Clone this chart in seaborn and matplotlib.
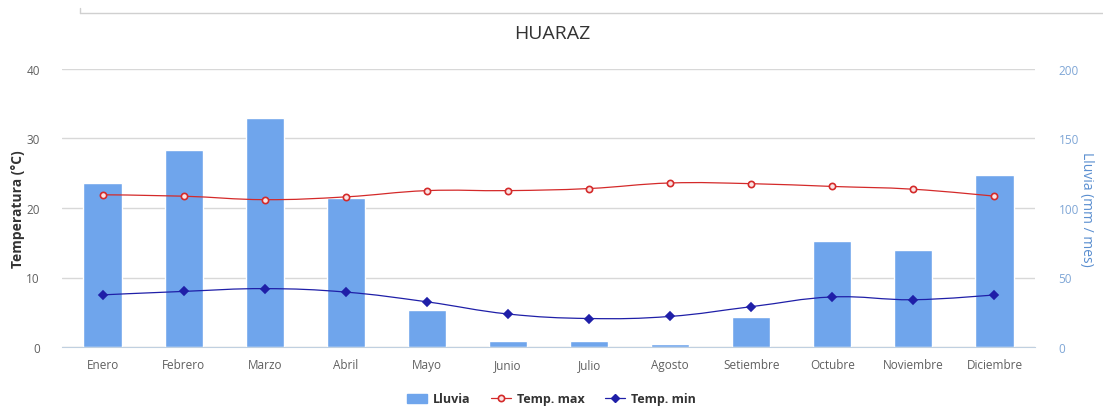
import numpy as np
import matplotlib
matplotlib.use("Agg")
import matplotlib.pyplot as plt
from matplotlib.path import Path
from matplotlib.patches import PathPatch, Patch
from matplotlib.lines import Line2D
import seaborn as sns

# Datos climáticos de Huaraz
meses = ['Enero', 'Febrero', 'Marzo', 'Abril', 'Mayo', 'Junio', 'Julio',
         'Agosto', 'Setiembre', 'Octubre', 'Noviembre', 'Diciembre']
lluvia = [118, 142, 164.5, 107, 26.5, 4.3, 4.3, 2.5, 21.5, 76, 69.5, 124]
temp_max = [21.9, 21.7, 21.2, 21.6, 22.5, 22.5, 22.8, 23.6, 23.5, 23.1, 22.7, 21.7]
temp_min = [7.5, 8.0, 8.4, 7.9, 6.5, 4.75, 4.1, 4.4, 5.8, 7.2, 6.8, 7.5]

temp_ticks = [0, 10, 20, 30, 40]
lluvia_ticks = [0, 50, 100, 150, 200]

c_bar = '#6fa5ec'
c_max = '#d42a2a'
c_min = '#1f1fa8'
c_axis = '#c0d0e0'
c_text = '#606060'

sns.set_style("white")
plt.rcParams['font.family'] = ['Open Sans', 'DejaVu Sans']


def spline_path(xs, ys, smoothing=1.5):
    # curva suave estilo "spline" a partir de los puntos
    n = len(xs)
    verts = [(xs[0], ys[0])]
    codes = [Path.MOVETO]
    left = [None] * n
    right = [None] * n
    denom = smoothing + 1
    for i in range(1, n - 1):
        lx = (smoothing * xs[i] + xs[i - 1]) / denom
        ly = (smoothing * ys[i] + ys[i - 1]) / denom
        rx = (smoothing * xs[i] + xs[i + 1]) / denom
        ry = (smoothing * ys[i] + ys[i + 1]) / denom
        corr = (ry - ly) * (rx - xs[i]) / (rx - lx) + ys[i] - ry
        left[i] = (lx, ly + corr)
        right[i] = (rx, ry + corr)
    for i in range(1, n):
        c1 = right[i - 1] if right[i - 1] else (xs[i - 1], ys[i - 1])
        c2 = left[i] if left[i] else (xs[i], ys[i])
        verts += [c1, c2, (xs[i], ys[i])]
        codes += [Path.CURVE4] * 3
    return Path(verts, codes)


fig = plt.figure(figsize=(11.03, 4.10), dpi=100)
ax = fig.add_axes([62 / 1103, 1 - 348 / 410, 973 / 1103, 278 / 410])
ax2 = ax.twinx()

# barras de lluvia en el eje derecho
sns.barplot(x=meses, y=lluvia, ax=ax2, color=c_bar, saturation=1, width=0.47, zorder=2)
ax2.set_ylim(0, 200)
ax2.set_yticks(lluvia_ticks)
ax2.grid(axis='y', color='#d8d8d8', lw=1, zorder=0)
ax2.set_axisbelow(True)

# temperaturas en el eje izquierdo, por encima de las barras
ax.set_zorder(ax2.get_zorder() + 1)
ax.patch.set_visible(False)
pos = np.arange(len(meses))
for vals, col, mk, ms, mfc in [(temp_max, c_max, 'o', 4.5, '#fbe3e3'),
                               (temp_min, c_min, 'D', 3.8, c_min)]:
    ax.add_patch(PathPatch(spline_path(pos, vals), fill=False, ec=col, lw=0.9, zorder=3))
    sns.lineplot(x=pos, y=vals, ax=ax, color=col, lw=0, marker=mk, markersize=ms,
                 markerfacecolor=mfc, markeredgecolor=col, markeredgewidth=1.2, zorder=4)

ax.set_ylim(0, 40)
ax.set_yticks(temp_ticks)
ax.set_xlim(-0.5, 11.5)
ax2.set_xlim(-0.5, 11.5)
ax.set_xticks(pos)
ax.set_xticklabels(meses)
ax.set_xticks(np.arange(-0.5, 12, 1), minor=True)
ax.tick_params(axis='x', which='major', length=0, pad=8, labelsize=8.5, labelcolor=c_text)
ax.tick_params(axis='x', which='minor', length=9, color=c_axis, width=1)
ax.tick_params(axis='y', length=0, pad=16, labelsize=8.5, labelcolor=c_text)
ax2.tick_params(axis='y', length=0, pad=17, labelsize=8.5, labelcolor='#7fa6d6')
ax2.tick_params(axis='x', length=0, labelbottom=False)
ax.set_xlabel('')
ax2.set_xlabel('')

for a in (ax, ax2):
    for s in ['top', 'left', 'right']:
        a.spines[s].set_visible(False)
    a.spines['bottom'].set_color(c_axis)
ax2.spines['bottom'].set_visible(False)

ax.set_ylabel('Temperatura (°C)', fontsize=10, fontweight='bold', color='#333333')
ax.yaxis.set_label_coords(-0.038, 0.5)
ax2.set_ylabel('Lluvia (mm / mes)', fontsize=10, color='#5b8fd0', rotation=-90, va='center')
ax2.yaxis.set_label_coords(1.053, 0.5)

fig.text(0.501, 1 - 34 / 410, 'HUARAZ', ha='center', va='center', fontsize=14, color='#333333')

# línea gris del marco superior
fig.add_artist(Line2D([80 / 1103, 1.0], [1 - 14 / 410] * 2, color='#d0d0d0', lw=1))
fig.add_artist(Line2D([80 / 1103] * 2, [1 - 14 / 410, 1 - 9 / 410], color='#d0d0d0', lw=1))

handles = [Patch(color=c_bar, label='Lluvia'),
           Line2D([], [], color=c_max, marker='o', markersize=4.5, markerfacecolor='#fbe3e3',
                  markeredgewidth=1.2, lw=0.9, label='Temp. max'),
           Line2D([], [], color=c_min, marker='D', markersize=3.8, lw=0.9, label='Temp. min')]
fig.legend(handles=handles, loc='center', bbox_to_anchor=(0.5, 1 - 400 / 410), ncol=3,
           frameon=False, handlelength=1.6, columnspacing=1.6, handletextpad=0.5,
           prop={'weight': 'bold', 'size': 9}, labelcolor='#333333')

fig.savefig('out.png', dpi=100)
